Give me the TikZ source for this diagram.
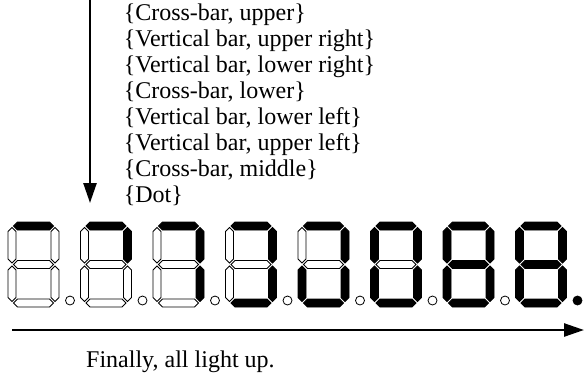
\documentclass[tikz,border=0pt]{standalone}
\usepackage{fontspec}
\setmainfont{Liberation Serif}
\usetikzlibrary{arrows.meta}
\newcommand{\hsegm}[4]{\draw[seg,fill=#1] ({#2},{#4}) -- ({#2+4},{#4-4}) -- ({#3-4},{#4-4}) -- ({#3},{#4}) -- ({#3-4},{#4+4}) -- ({#2+4},{#4+4}) -- cycle;}
\newcommand{\vsegm}[4]{\draw[seg,fill=#1] ({#2},{#3}) -- ({#2+4},{#3+4}) -- ({#2+4},{#4-4}) -- ({#2},{#4}) -- ({#2-4},{#4-4}) -- ({#2-4},{#3+4}) -- cycle;}
\newcommand{\setf}[1]{\ifnum\k<#1 \def\f{white}\else\def\f{black}\fi}
\begin{document}
\begin{tikzpicture}[x=1pt,y=-1pt,
  seg/.style={draw=black,line width=0.8pt},
  lbl/.style={anchor=base west,inner sep=0pt,font=\fontsize{24}{26}\selectfont},
  bigarrow/.style={line width=2.5pt,-{Triangle[length=20pt,width=13pt]}}]
\useasboundingbox (0,0) rectangle (588,373);
\node[lbl] (t1) at (123.6,20) {\{Cross-bar, upper\}};
\node[lbl] (t2) at (123.6,46) {\{Vertical bar, upper right\}};
\node[lbl] (t3) at (123.6,72) {\{Vertical bar, lower right\}};
\node[lbl] (t4) at (123.6,98) {\{Cross-bar, lower\}};
\node[lbl] (t5) at (123.6,124) {\{Vertical bar, lower left\}};
\node[lbl] (t6) at (123.6,150) {\{Vertical bar, upper left\}};
\node[lbl] (t7) at (123.6,176) {\{Cross-bar, middle\}};
\node[lbl] (t8) at (123.6,202) {\{Dot\}};
\coordinate (vtop) at (90,0);
\coordinate (vtip) at (90,203);
\draw[bigarrow] (vtop) -- (vtip);
\coordinate (hstart) at (12,330);
\coordinate (htip) at (584,330);
\draw[bigarrow] (hstart) -- (htip);
\node[lbl] (fin) at (86,367) {Finally, all light up.};
\foreach \k in {1,...,8}{
  \pgfmathsetmacro\X{8+72.5*(\k-1)}
  \setf{1}\hsegm{\f}{\X+5.5}{\X+45.5}{226}
  \setf{2}\vsegm{\f}{\X+47}{227.5}{263}
  \setf{3}\vsegm{\f}{\X+47}{266}{301.5}
  \setf{4}\hsegm{\f}{\X+5.5}{\X+45.5}{303}
  \setf{5}\vsegm{\f}{\X+4}{266}{301.5}
  \setf{6}\vsegm{\f}{\X+4}{227.5}{263}
  \setf{7}\hsegm{\f}{\X+5.5}{\X+45.5}{264.5}
  \setf{8}\draw[seg,fill=\f] ({\X+62},300.5) circle (4.5);
}
\end{tikzpicture}
\end{document}
